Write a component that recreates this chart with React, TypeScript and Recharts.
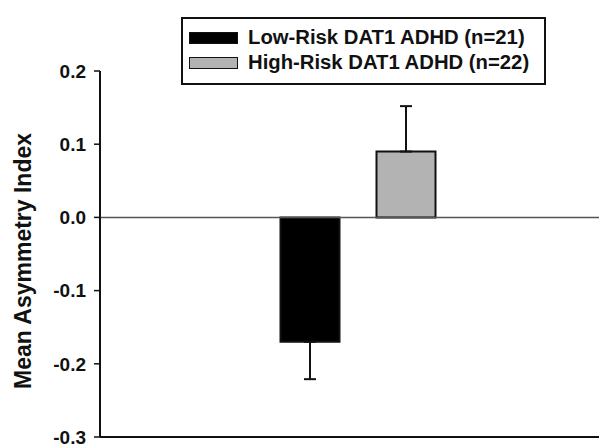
import React from 'react'
import { BarChart, Bar, XAxis, YAxis, ReferenceLine, ErrorBar } from 'recharts'

const groups = ['Asymmetry']
const lowRisk = [-0.17]
const lowRiskErr: [number, number][] = [[0.051, 0]]
const highRisk = [0.09]
const highRiskErr: [number, number][] = [[0, 0.062]]
const yTicks = [0.2, 0.1, 0.0, -0.1, -0.2, -0.3]

const series = [
  { key: 'low', name: 'Low-Risk DAT1 ADHD (n=21)', fill: '#000000' },
  { key: 'high', name: 'High-Risk DAT1 ADHD (n=22)', fill: '#b3b3b3' },
]

const data = groups.map((g, i) => ({
  group: g,
  low: lowRisk[i],
  lowErr: lowRiskErr[i],
  high: highRisk[i],
  highErr: highRiskErr[i],
}))

const font = '"Liberation Sans", Arial, sans-serif'

function AxisTitle({ viewBox }: any) {
  const x = viewBox.x + 15
  const y = viewBox.y + viewBox.height / 2 + 7
  return (
    <text
      x={x}
      y={y}
      transform={`rotate(-90, ${x}, ${y})`}
      textAnchor="middle"
      dominantBaseline="central"
      fontFamily={font}
      fontWeight="bold"
      fontSize={23}
      fill="#111"
    >
      Mean Asymmetry Index
    </text>
  )
}

function LegendBox() {
  return (
    <div
      style={{
        position: 'absolute',
        left: 173,
        top: 9,
        width: 365,
        height: 68,
        border: '2px solid #111',
        boxSizing: 'border-box',
        fontFamily: font,
        fontWeight: 'bold',
        fontSize: 20.3,
        color: '#111',
        padding: '6px 0 0 6px',
      }}
    >
      {series.map((s) => (
        <div key={s.key} style={{ display: 'flex', alignItems: 'center', height: 25 }}>
          <span
            style={{
              display: 'inline-block',
              width: 49,
              height: 12,
              background: s.fill,
              border: '1.5px solid #111',
              boxSizing: 'border-box',
              marginRight: 10,
            }}
          />
          <span>{s.name}</span>
        </div>
      ))}
    </div>
  )
}

export default function App() {
  return (
    <div style={{ position: 'relative', width: 599, height: 440, background: '#fff' }}>
      <BarChart
        width={599}
        height={440}
        data={data}
        margin={{ top: 63, right: 0, bottom: 9, left: 0 }}
        barSize={59}
        barGap={37}
      >
        <XAxis
          dataKey="group"
          height={2}
          tick={false}
          tickLine={false}
          axisLine={{ stroke: '#111', strokeWidth: 2 }}
          padding={{ left: 9.5, right: 0 }}
        />
        <YAxis
          width={92}
          domain={[-0.3, 0.2]}
          ticks={yTicks}
          interval={0}
          tickFormatter={(v: number) => v.toFixed(1)}
          tickSize={6}
          tickMargin={8}
          tickLine={{ stroke: '#111', strokeWidth: 1.5 }}
          axisLine={{ stroke: '#111', strokeWidth: 2 }}
          tick={{ fontFamily: font, fontWeight: 'bold', fontSize: 19, fill: '#111' }}
          label={{ content: AxisTitle }}
        />
        <ReferenceLine y={0} stroke="#555" strokeWidth={1.5} />
        {series.map((s) => (
          <Bar
            key={s.key}
            dataKey={s.key}
            name={s.name}
            fill={s.fill}
            stroke="#111"
            strokeWidth={2}
            isAnimationActive={false}
          >
            <ErrorBar
              dataKey={`${s.key}Err`}
              width={6}
              stroke="#111"
              strokeWidth={2}
              isAnimationActive={false}
            />
          </Bar>
        ))}
      </BarChart>
      <LegendBox />
    </div>
  )
}
